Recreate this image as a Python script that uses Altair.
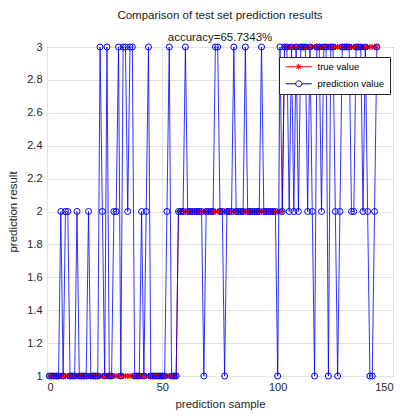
import altair as alt
import pandas as pd

# ---- data ----
sample = list(range(1, 144))

true_value = (
    [1, 1, 1, 1, 1, 1, 1, 1, 1, 1, 1, 1, 1, 1, 1, 1, 1, 1, 1, 1]
    + [1, 1, 1, 1, 1, 1, 1, 1, 1, 1, 1, 1, 1, 1, 1, 1, 1, 1, 1, 1]
    + [1, 1, 1, 1, 1, 1, 1, 1, 1, 1, 1, 1, 1, 1, 1, 1, 2, 2, 2, 2]
    + [2, 2, 2, 2, 2, 2, 2, 2, 2, 2, 2, 2, 2, 2, 2, 2, 2, 2, 2, 2]
    + [2, 2, 2, 2, 2, 2, 2, 2, 2, 2, 2, 2, 2, 2, 2, 2, 2, 2, 2, 2]
    + [2, 2, 3, 3, 3, 3, 3, 3, 3, 3, 3, 3, 3, 3, 3, 3, 3, 3, 3, 3]
    + [3, 3, 3, 3, 3, 3, 3, 3, 3, 3, 3, 3, 3, 3, 3, 3, 3, 3, 3, 3]
    + [3, 3, 3]
)

prediction_value = (
    [1, 1, 1, 1, 1, 2, 1, 2, 2, 1, 1, 1, 2, 1, 1, 1, 1, 2, 1, 1]
    + [1, 1, 3, 2, 1, 3, 1, 1, 2, 2, 3, 1, 3, 3, 2, 3, 3, 1, 1, 1]
    + [2, 1, 2, 3, 1, 1, 1, 1, 1, 1, 1, 2, 3, 1, 1, 1, 2, 2, 2, 3]
    + [2, 2, 2, 2, 2, 2, 2, 1, 2, 2, 2, 2, 3, 3, 2, 2, 1, 2, 2, 2]
    + [3, 2, 2, 2, 2, 3, 2, 2, 2, 2, 2, 2, 3, 2, 2, 2, 2, 2, 2, 1]
    + [3, 2, 3, 3, 2, 3, 2, 3, 2, 3, 3, 3, 2, 3, 2, 1, 3, 3, 2, 3]
    + [3, 1, 3, 3, 2, 1, 2, 3, 3, 3, 3, 2, 2, 3, 3, 3, 2, 3, 2, 1]
    + [1, 2, 3]
)

series_names = ["true value", "prediction value"]
series_colors = ["#FF0000", "#0000FF"]

x_ticks = [0, 50, 100, 150]
y_ticks = [1, 1.2, 1.4, 1.6, 1.8, 2, 2.2, 2.4, 2.6, 2.8, 3]

title_text = "Comparison of test set prediction results"
subtitle_text = "accuracy=65.7343%"

# ---- tables ----
df_true = pd.DataFrame({"sample": sample, "value": true_value})
df_pred = pd.DataFrame({"sample": sample, "value": prediction_value})
df_legend = pd.DataFrame({"lg": series_names})

FONT = "Liberation Sans"
TXT = "#262626"

x_enc = alt.X(
    "sample:Q",
    scale=alt.Scale(domain=[0, 150], nice=False, zero=False),
    axis=alt.Axis(values=x_ticks, title="prediction sample", format="d"),
)
y_enc = alt.Y(
    "value:Q",
    scale=alt.Scale(domain=[1, 3], nice=False, zero=False),
    axis=alt.Axis(values=y_ticks, title="prediction result", format="~g"),
)

ASTERISK = "M0,-1L0,1M-1,0L1,0M-0.7,-0.7L0.7,0.7M-0.7,0.7L0.7,-0.7"

true_line = alt.Chart(df_true).mark_line(color=series_colors[0], strokeWidth=1).encode(x=x_enc, y=y_enc)
true_pts = alt.Chart(df_true).mark_point(
    shape=ASTERISK, color=series_colors[0], filled=False, size=36, strokeWidth=1, opacity=1
).encode(x=x_enc, y=y_enc)
pred_line = alt.Chart(df_pred).mark_line(color=series_colors[1], strokeWidth=1, opacity=0.8).encode(x=x_enc, y=y_enc)
pred_pts = alt.Chart(df_pred).mark_point(
    shape="circle", color=series_colors[1], filled=False, size=36, strokeWidth=1, opacity=1
).encode(x=x_enc, y=y_enc)

# legend symbols: a short line with the marker in its middle
LEG_AST = "M-1,0L7.67,0M3.33,-1L3.33,1M2.33,0L4.33,0M2.63,-0.7L4.03,0.7M2.63,0.7L4.03,-0.7"
LEG_CIR = "M-1,0L2.33,0M4.33,0L7.67,0M4.33,0A1,1 0 1,1 2.33,0A1,1 0 1,1 4.33,0"

leg = alt.Legend(
    title=None,
    orient="none",
    legendX=232,
    legendY=10,
)
legend_layer = alt.Chart(df_legend).mark_point(filled=False, clip=True, strokeWidth=1, opacity=1).encode(
    x=alt.value(-200),
    y=alt.value(-200),
    color=alt.Color("lg:N", scale=alt.Scale(domain=series_names, range=series_colors), legend=leg),
    shape=alt.Shape("lg:N", scale=alt.Scale(domain=series_names, range=[LEG_AST, LEG_CIR]), legend=leg),
)

chart = (
    alt.layer(true_line, true_pts, pred_line, pred_pts, legend_layer)
    .properties(
        width=346,
        height=329,
        title=alt.Title(
            title_text,
            subtitle=subtitle_text,
            font=FONT,
            fontSize=11.5,
            fontWeight="normal",
            color="#1a1a1a",
            subtitleFont=FONT,
            subtitleFontSize=11.5,
            subtitleColor="#1a1a1a",
            anchor="middle",
            offset=-2,
            subtitlePadding=10,
        ),
        padding={"left": 39, "top": 39, "right": 5, "bottom": 34},
        autosize=alt.AutoSizeParams(type="none"),
    )
    .configure_view(stroke=TXT, strokeWidth=1)
    .configure_axis(
        domain=False,
        ticks=False,
        grid=True,
        gridColor="#E3E3E3",
        gridWidth=1,
        labelFont=FONT,
        labelFontSize=11,
        labelColor=TXT,
        labelPadding=5,
        titleFont=FONT,
        titleFontSize=11.5,
        titleFontWeight="normal",
        titleColor=TXT,
    )
    .configure_axisY(titlePadding=8)
    .configure_axisX(titlePadding=6)
    .configure_legend(
        labelFont=FONT,
        labelFontSize=9.5,
        labelColor="#000000",
        labelOffset=24,
        symbolSize=36,
        symbolStrokeWidth=1,
        padding=5,
        rowPadding=6,
        fillColor="#FFFFFF",
        strokeColor="#262626",
        cornerRadius=0,
    )
)

chart.save("out.html", embed_options={"renderer": "svg", "actions": False})
